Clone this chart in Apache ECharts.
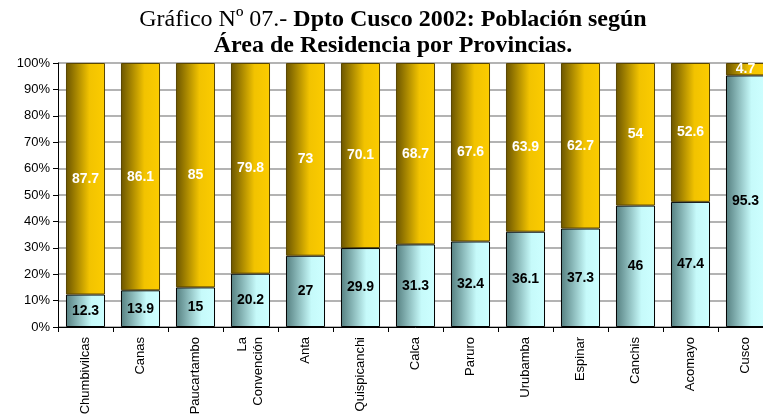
<!DOCTYPE html>
<html>
<head>
<meta charset="utf-8">
<script src="https://cdn.jsdelivr.net/npm/echarts@6/dist/echarts.min.js"></script>
<style>
  html, body { margin: 0; padding: 0; background: #fff; overflow: hidden; }
  #wrap { width: 763px; height: 419px; overflow: hidden; }
  /* plot area runs slightly past the right edge, clipping the last bar */
  #chart { width: 773px; height: 419px; }
</style>
</head>
<body>
<div id="wrap"><div id="chart"></div></div>
<script>
// Provinces of the Cusco department
const provinces = ['Chumbivilcas', 'Canas', 'Paucartambo', 'La\nConvención', 'Anta',
  'Quispicanchi', 'Calca', 'Paruro', 'Urubamba', 'Espinar', 'Canchis', 'Acomayo', 'Cusco'];
// Share of population (%) by area of residence
const urbana = [12.3, 13.9, 15, 20.2, 27, 29.9, 31.3, 32.4, 36.1, 37.3, 46, 47.4, 95.3];
const rural = [87.7, 86.1, 85, 79.8, 73, 70.1, 68.7, 67.6, 63.9, 62.7, 54, 52.6, 4.7];

const chart = echarts.init(document.getElementById('chart'));

const cyanFill = {
  type: 'linear', x: 0, y: 0, x2: 1, y2: 0,
  colorStops: [
    { offset: 0, color: '#557f80' },
    { offset: 0.65, color: '#c6fafa' },
    { offset: 1, color: '#cdffff' }
  ]
};
const goldFill = {
  type: 'linear', x: 0, y: 0, x2: 1, y2: 0,
  colorStops: [
    { offset: 0, color: '#6b5500' },
    { offset: 0.6, color: '#f2c300' },
    { offset: 1, color: '#fccc00' }
  ]
};

chart.setOption({
  animation: false,
  title: {
    left: 388, top: 2, textAlign: 'center',
    text: '{n|Gráfico Nº 07.- }{b|Dpto Cusco 2002: Población según}\n{b|Área de Residencia por Provincias.}',
    textStyle: {
      fontWeight: 'normal',
      rich: {
        n: { fontFamily: 'Liberation Serif', fontSize: 24, fontWeight: 'normal', color: '#000', lineHeight: 26 },
        b: { fontFamily: 'Liberation Serif', fontSize: 24, fontWeight: 'bold', color: '#000', lineHeight: 26 }
      }
    }
  },
  grid: { left: 58, top: 63, right: 0, bottom: 92 },
  xAxis: {
    type: 'category',
    data: provinces,
    axisLine: { lineStyle: { color: '#000', width: 1 } },
    axisTick: { show: true, length: 5, lineStyle: { color: '#000' } },
    axisLabel: {
      rotate: 90, margin: 10, interval: 0,
      fontFamily: 'Liberation Sans, Arial', fontSize: 13, color: '#000', lineHeight: 16
    }
  },
  yAxis: {
    type: 'value', min: 0, max: 100, interval: 10,
    axisLine: { show: true, lineStyle: { color: '#000', width: 1 } },
    axisTick: { show: true, length: 5, lineStyle: { color: '#000' } },
    splitLine: { show: true, lineStyle: { color: '#9a9a9a', width: 1.5 } },
    axisLabel: {
      formatter: '{value}%', margin: 8,
      fontFamily: 'Liberation Sans, Arial', fontSize: 13, color: '#000'
    }
  },
  series: [
    {
      name: 'Urbana', type: 'bar', stack: 'total', data: urbana, barWidth: '71%',
      itemStyle: { color: cyanFill, borderColor: '#000', borderWidth: 1 },
      label: {
        show: true, position: 'inside', color: '#000',
        fontFamily: 'Liberation Sans, Arial', fontWeight: 'bold', fontSize: 14
      }
    },
    {
      name: 'Rural', type: 'bar', stack: 'total', data: rural, barWidth: '71%',
      itemStyle: { color: goldFill, borderColor: '#5a4600', borderWidth: 1 },
      label: {
        show: true, position: 'inside', color: '#fff',
        fontFamily: 'Liberation Sans, Arial', fontWeight: 'bold', fontSize: 14
      }
    }
  ]
});
</script>
</body>
</html>
